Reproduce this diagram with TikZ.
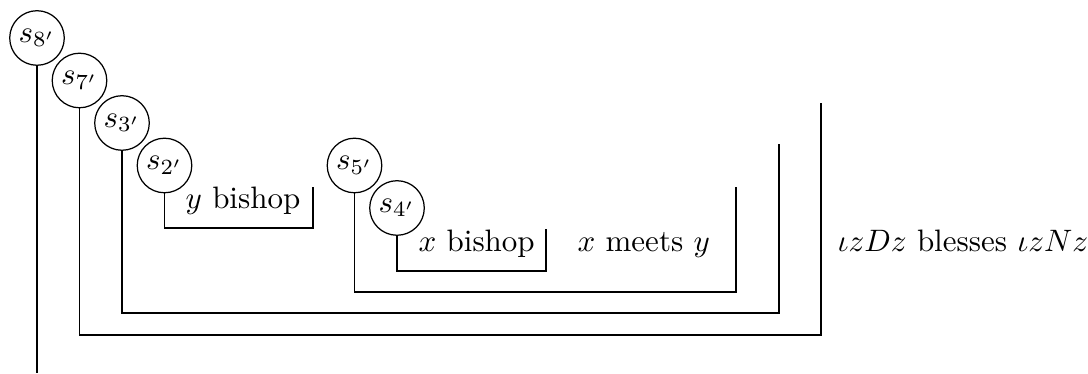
\documentclass[tikz,border=0pt]{standalone}
\begin{document}
\begin{tikzpicture}[x=0.3226pt,y=-0.3226pt,
  sc/.style={draw,circle,inner sep=0pt,minimum size=17.6pt},
  lbl/.style={anchor=base west,inner sep=0pt},
  conn/.style={draw,line width=0.4pt}]
\useasboundingbox (0,0) rectangle (1088,374);
\node[sc] (s8) at (37,38) {$s_{8'}$};
\node[sc] (s7) at (79.5,80.5) {$s_{7'}$};
\node[sc] (s3) at (122,123) {$s_{3'}$};
\node[sc] (s2) at (164.5,165.5) {$s_{2'}$};
\node[sc] (s5) at (354.5,165.5) {$s_{5'}$};
\node[sc] (s4) at (397,208) {$s_{4'}$};
\node[lbl] (t2) at (185,209) {$y$ bishop};
\node[lbl] (t4) at (418,252) {$x$ bishop};
\node[lbl] (t5) at (577,252) {$x$ meets $y$};
\node[lbl] (t8) at (837,252) {$\iota z D z$ blesses $\iota z N z$};
\coordinate (e8) at (37,373);
\coordinate (c7) at (821,335); \coordinate (u7) at (821,103);
\coordinate (c3) at (779,313); \coordinate (u3) at (779,144);
\coordinate (c2) at (313,228); \coordinate (u2) at (313,187);
\coordinate (c5) at (736,292); \coordinate (u5) at (736,187);
\coordinate (c4) at (546,271); \coordinate (u4) at (546,229);
\draw[conn] (s8.south) -- (s8.south |- e8);
\draw[conn] (s7.south) |- (c7) -- (u7);
\draw[conn] (s3.south) |- (c3) -- (u3);
\draw[conn] (s2.south) |- (c2) -- (u2);
\draw[conn] (s5.south) |- (c5) -- (u5);
\draw[conn] (s4.south) |- (c4) -- (u4);
\end{tikzpicture}
\end{document}
